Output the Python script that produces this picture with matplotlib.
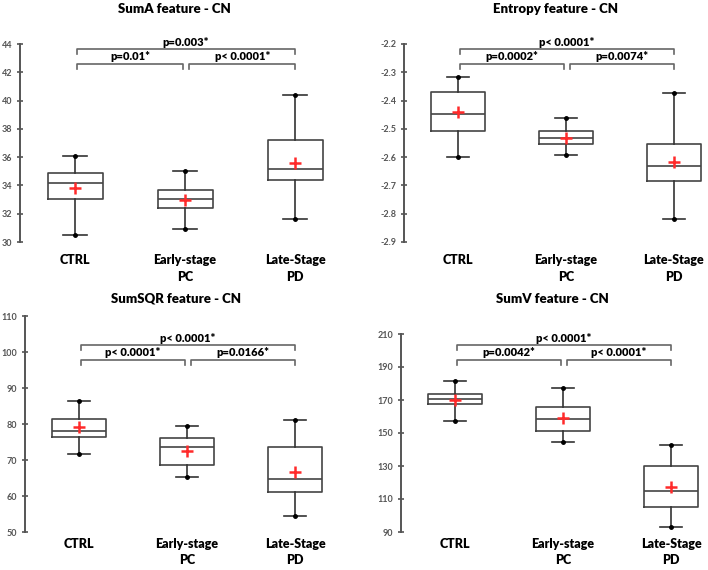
import matplotlib
matplotlib.use("Agg")
import matplotlib.pyplot as plt
import matplotlib.transforms as mtransforms

plt.rcParams['font.family'] = ['Lato', 'DejaVu Sans']

groups = ["CTRL", "Early-stage\nPC", "Late-Stage\nPD"]

titles = ["SumA feature - CN", "Entropy feature - CN",
          "SumSQR feature - CN", "SumV feature - CN"]

# per group: whisker low, q1, median, q3, whisker high, mean
suma_low = [30.5, 30.95, 31.65]
suma_q1 = [33.05, 32.4, 34.35]
suma_med = [34.2, 33.05, 35.15]
suma_q3 = [34.9, 33.65, 37.2]
suma_high = [36.1, 35.05, 40.4]
suma_mean = [33.85, 32.95, 35.6]

entropy_low = [-2.598, -2.592, -2.82]
entropy_q1 = [-2.508, -2.555, -2.685]
entropy_med = [-2.447, -2.533, -2.633]
entropy_q3 = [-2.368, -2.508, -2.555]
entropy_high = [-2.315, -2.462, -2.373]
entropy_mean = [-2.44, -2.532, -2.617]

sumsqr_low = [71.8, 65.4, 54.5]
sumsqr_q1 = [76.4, 68.6, 61.1]
sumsqr_med = [78.0, 73.5, 64.7]
sumsqr_q3 = [81.4, 76.0, 73.7]
sumsqr_high = [86.5, 79.4, 81.2]
sumsqr_mean = [79.1, 72.6, 66.7]

sumv_low = [157.5, 144.5, 93.0]
sumv_q1 = [167.5, 151.0, 105.0]
sumv_med = [170.5, 158.5, 115.0]
sumv_q3 = [173.5, 166.0, 130.0]
sumv_high = [181.5, 177.5, 142.5]
sumv_mean = [170.0, 159.0, 117.5]

# p-values: CTRL vs Late (top), CTRL vs Early, Early vs Late
suma_p = ["p=0.003*", "p=0.01*", "p< 0.0001*"]
entropy_p = ["p< 0.0001*", "p=0.0002*", "p=0.0074*"]
sumsqr_p = ["p< 0.0001*", "p< 0.0001*", "p=0.0166*"]
sumv_p = ["p< 0.0001*", "p=0.0042*", "p< 0.0001*"]

suma_ticks = [30, 32, 34, 36, 38, 40, 42, 44]
entropy_ticks = [-2.9, -2.8, -2.7, -2.6, -2.5, -2.4, -2.3, -2.2]
sumsqr_ticks = [50, 60, 70, 80, 90, 100, 110]
sumv_ticks = [90, 110, 130, 150, 170, 190, 210]

panels = [
    (suma_low, suma_q1, suma_med, suma_q3, suma_high, suma_mean, suma_p, suma_ticks, "{:g}"),
    (entropy_low, entropy_q1, entropy_med, entropy_q3, entropy_high, entropy_mean, entropy_p, entropy_ticks, "{:.1f}"),
    (sumsqr_low, sumsqr_q1, sumsqr_med, sumsqr_q3, sumsqr_high, sumsqr_mean, sumsqr_p, sumsqr_ticks, "{:g}"),
    (sumv_low, sumv_q1, sumv_med, sumv_q3, sumv_high, sumv_mean, sumv_p, sumv_ticks, "{:g}"),
]

W, H = 708, 570
fig = plt.figure(figsize=(W / 100, H / 100), dpi=100)

# axes boxes in pixels: left spine x, top, bottom, px per group
boxes = [(20, 44, 242, 110), (404, 44, 242, 108),
         (25, 316, 532, 108), (401, 334, 532, 108)]
# bracket heights in pixels from the top of the figure (per row)
bracket_px = [(49, 64), (49, 64), (345, 360), (345, 360)]
title_px = [9, 9, 298, 299]
label_pad = [9, 9, 4, 4]

axis_col = "#555555"
box_col = "#444444"

for i, (lo, q1, med, q3, hi, mn, pv, ticks, fmt) in enumerate(panels):
    x0, top, bot, step = boxes[i]
    width = 2.8 * step
    ax = fig.add_axes([x0 / W, 1 - bot / H, width / W, (bot - top) / H])

    stats = [dict(whislo=lo[k], q1=q1[k], med=med[k], q3=q3[k], whishi=hi[k],
                  mean=mn[k], fliers=[]) for k in range(3)]
    pos = [0, 1, 2]
    ax.bxp(stats, positions=pos, widths=0.5, capwidths=0.21, showmeans=True,
           boxprops=dict(color=box_col, lw=1.2),
           medianprops=dict(color=box_col, lw=1.2),
           whiskerprops=dict(color="#333333", lw=1.2),
           capprops=dict(color="#333333", lw=1.2),
           meanprops=dict(marker="+", markeredgecolor="#ff2a2a",
                          markersize=9, markeredgewidth=1.8))
    ax.plot(pos, lo, "o", color="black", ms=2.5, zorder=5)
    ax.plot(pos, hi, "o", color="black", ms=2.5, zorder=5)

    ax.set_xlim(-0.5, 2.3)
    ax.set_ylim(ticks[0], ticks[-1])
    ax.set_yticks(ticks)
    ax.set_yticklabels([fmt.format(t) for t in ticks], fontweight="bold")
    ax.set_xticks(pos)
    ax.set_xticklabels(groups, fontsize=9, fontweight="heavy", linespacing=1.45)
    ax.tick_params(axis="x", length=0, pad=label_pad[i])
    ax.tick_params(axis="y", direction="inout", length=5, width=1.2,
                   colors=axis_col, labelsize=6.5, pad=3)
    for s in ["top", "right", "bottom"]:
        ax.spines[s].set_visible(False)
    ax.spines["left"].set_color(axis_col)
    ax.spines["left"].set_linewidth(1.4)

    # title in figure pixels
    fig.text((x0 + 1.4 * step) / W, 1 - title_px[i] / H, titles[i],
             ha="center", va="center", fontsize=9.5, fontweight="heavy")

    # significance brackets
    tr = mtransforms.blended_transform_factory(ax.transData, fig.transFigure)
    y_top, y_low = bracket_px[i]
    drop = 5
    spans = [(0.02, 2.0, y_top), (0.02, 0.98, y_low), (1.04, 2.0, y_low)]
    for (xa, xb, yp), label in zip(spans, pv):
        yb = 1 - yp / H
        ye = 1 - (yp + drop) / H
        ax.plot([xa, xa, xb, xb], [ye, yb, yb, ye], color="#666666", lw=1.2,
                transform=tr, clip_on=False)
        ax.text((xa + xb) / 2, yb + 1.5 / H, label, transform=tr, ha="center",
                va="bottom", fontsize=8, fontweight="heavy")

fig.savefig("out.png", dpi=100)
